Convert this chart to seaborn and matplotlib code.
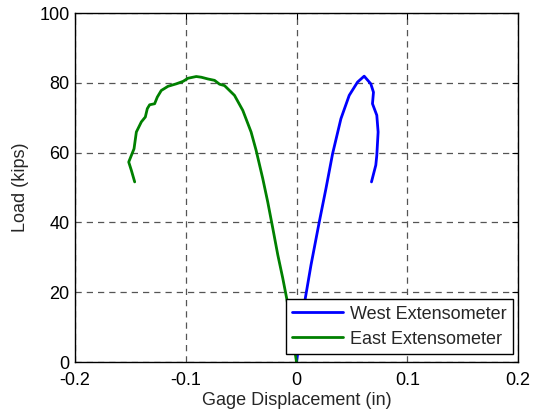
import matplotlib
matplotlib.use("Agg")
import matplotlib.pyplot as plt
import seaborn as sns
import pandas as pd

# Data (x in inches, load in kips)
west_x = [0.0, 0.004, 0.0077, 0.0131, 0.0206, 0.0266, 0.0326, 0.0401, 0.0476, 0.0551,
          0.0611, 0.0671, 0.0695, 0.0686, 0.0725, 0.0737, 0.0725, 0.0716, 0.0677]
west_load = [0.0, 9.0, 17.8, 27.8, 40.2, 49.7, 59.7, 69.7, 76.4, 80.2,
             81.9, 79.7, 77.3, 74.0, 70.7, 65.9, 59.2, 56.4, 51.6]

east_x = [0.0, -0.0005, -0.0086, -0.0124, -0.0169, -0.0214, -0.026, -0.0305, -0.0365, -0.041,
          -0.0485, -0.056, -0.065, -0.0695, -0.074, -0.080, -0.086, -0.0905, -0.098, -0.1025,
          -0.1086, -0.116, -0.1221, -0.1257, -0.1281, -0.1326, -0.1347, -0.1365, -0.1401, -0.1446,
          -0.1467, -0.1491, -0.1515, -0.1491, -0.1461]
east_load = [0.0, 1.1, 17.8, 24.0, 30.7, 38.3, 45.9, 52.6, 60.7, 65.9,
             72.1, 76.4, 79.2, 79.6, 80.7, 81.1, 81.6, 81.8, 81.3, 80.4,
             79.7, 79.0, 77.8, 75.9, 74.0, 73.7, 72.6, 70.2, 68.8, 65.9,
             61.1, 59.2, 57.3, 54.9, 51.6]

x_ticks = [-0.2, -0.1, 0, 0.1, 0.2]
x_tick_labels = ["-0.2", "-0.1", "0", "0.1", "0.2"]
y_ticks = [0, 20, 40, 60, 80, 100]

df = pd.concat([
    pd.DataFrame({"x": west_x, "load": west_load, "series": "West Extensometer"}),
    pd.DataFrame({"x": east_x, "load": east_load, "series": "East Extensometer"}),
], ignore_index=True)

sns.set_style("white")
plt.rcParams["font.family"] = ["Liberation Sans", "DejaVu Sans"]

FS = 13

fig = plt.figure(figsize=(5.35, 4.15), dpi=100)
ax = fig.add_axes([75/535, 1-362/415, (518-75)/535, (362-13)/415])

sns.lineplot(data=df, x="x", y="load", hue="series", sort=False, estimator=None,
             units="series",
             palette={"West Extensometer": "#0000FF", "East Extensometer": "#008000"},
             linewidth=2.0, ax=ax)

ax.set_xlim(-0.2, 0.2)
ax.set_ylim(0, 100)
ax.set_xticks(x_ticks)
ax.set_xticklabels(x_tick_labels)
ax.set_yticks(y_ticks)
ax.grid(True, linestyle=(0, (5, 4)), color="#555555", linewidth=0.9)
ax.set_axisbelow(True)
for s in ax.spines.values():
    s.set_color("black")
    s.set_linewidth(1.0)
ax.tick_params(direction="in", length=4, labelsize=FS, top=True, right=True,
               colors="black")
ax.tick_params(axis="x", pad=7.5)
ax.tick_params(axis="y", pad=4)
ax.set_xlabel("Gage Displacement (in)", fontsize=FS, labelpad=2)
ax.set_ylabel("Load (kips)", fontsize=FS, labelpad=7)

leg = ax.legend(loc="lower right", bbox_to_anchor=(0.9887, 0.023), borderaxespad=0,
                fontsize=FS, frameon=True, fancybox=False,
                edgecolor="black", framealpha=1, handlelength=2.8, handletextpad=0.4,
                labelspacing=0.45, borderpad=0.35)
leg.get_frame().set_linewidth(1.0)

fig.savefig("out.png", dpi=100)
